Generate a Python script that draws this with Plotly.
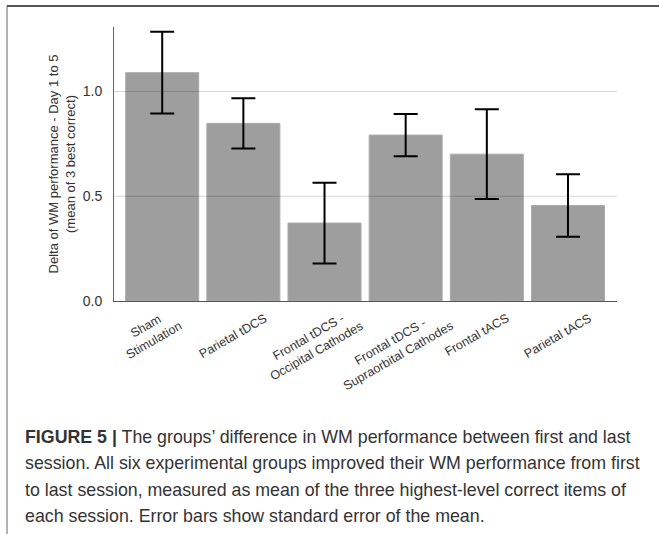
import plotly.graph_objects as go

# ---- data ----
categories = ["Sham<br>Stimulation", "Parietal tDCS", "Frontal tDCS -<br>Occipital Cathodes",
              "Frontal tDCS -<br>Supraorbital Cathodes", "Frontal tACS", "Parietal tACS"]
means = [1.09, 0.848, 0.372, 0.792, 0.701, 0.456]
sems = [0.195, 0.120, 0.193, 0.101, 0.214, 0.149]
y_ticks = [0.0, 0.5, 1.0]
y_tick_text = ["0.0", "0.5", "1.0"]
y_title = "Delta of WM performance - Day 1 to 5<br>(mean of 3 best correct)"
caption_lines = [
    "<b>FIGURE 5 |</b> The groups\u2019 difference in WM performance between first and last",
    "session. All six experimental groups improved their WM performance from first",
    "to last session, measured as mean of the three highest-level correct items of",
    "each session. Error bars show standard error of the mean.",
]

W, H = 659, 534
L, R, T, B = 114, 42, 27, 233
pw, ph = W - L - R, H - T - B

def px2x(px):
    return (px - L) / pw

def py2y(py):
    return (H - B - py) / ph

fig = go.Figure()
x_idx = list(range(len(categories)))
fig.add_trace(go.Bar(
    x=x_idx, y=means,
    marker=dict(color="#9e9e9e", line=dict(color="#ababab", width=1)),
    error_y=dict(type="data", array=sems, visible=True, color="#000000",
                 thickness=2, width=12),
    width=0.9,
    hoverinfo="skip",
))

shapes = []
# gridlines drawn above bars
for v in y_ticks[1:]:
    shapes.append(dict(type="line", xref="paper", yref="y", x0=0, x1=1, y0=v, y1=v,
                       line=dict(color="rgba(0,0,0,0.16)", width=1), layer="above"))
# figure frame (top and left)
shapes.append(dict(type="line", xref="paper", yref="paper",
                   x0=px2x(7), x1=px2x(W + 5), y0=py2y(6), y1=py2y(6),
                   line=dict(color="#555555", width=2)))
shapes.append(dict(type="line", xref="paper", yref="paper",
                   x0=px2x(7), x1=px2x(7), y0=py2y(6), y1=py2y(H + 5),
                   line=dict(color="#666666", width=1)))

annotations = []
for i, c in enumerate(categories):
    two_line = "<br>" in c
    annotations.append(dict(x=i, xref="x", y=py2y(302 if two_line else 308), yref="paper",
                            text=c, showarrow=False, textangle=-30, xanchor="center",
                            yanchor="top", align="center", xshift=-12 if two_line else -10,
                            font=dict(family="Liberation Sans, Arial", size=12.5, color="#333333")))
cap_baselines = [444, 470.5, 497, 523]
for ln, bl in zip(caption_lines, cap_baselines):
    annotations.append(dict(x=px2x(23), xref="paper", y=py2y(bl + 5), yref="paper",
                            text=ln, showarrow=False, xanchor="left", yanchor="bottom",
                            align="left",
                            font=dict(family="Liberation Sans, Arial", size=17.8, color="#333333")))

fig.update_layout(
    width=W, height=H,
    margin=dict(l=L, r=R, t=T, b=B, pad=0),
    paper_bgcolor="white", plot_bgcolor="white",
    showlegend=False,
    bargap=0.1,
    shapes=shapes,
    annotations=annotations,
    font=dict(family="Liberation Sans, Arial", color="#333333"),
)
fig.update_xaxes(range=[-0.594, 5.604], showticklabels=False, showgrid=False,
                 zeroline=False, showline=True, linecolor="#555555", linewidth=1.3,
                 ticks="", fixedrange=True)
fig.update_yaxes(range=[0, 1.308], tickvals=y_ticks, ticktext=y_tick_text,
                 showgrid=False, zeroline=False, showline=True, linecolor="#666666",
                 linewidth=1, ticks="", ticklabelstandoff=8,
                 tickfont=dict(size=14, color="#333333"),
                 title=dict(text=y_title, font=dict(size=13, color="#333333"), standoff=4),
                 automargin=False)

fig.write_html("out.html", config={"displayModeBar": False},
               post_script="document.body.style.margin='0';")
